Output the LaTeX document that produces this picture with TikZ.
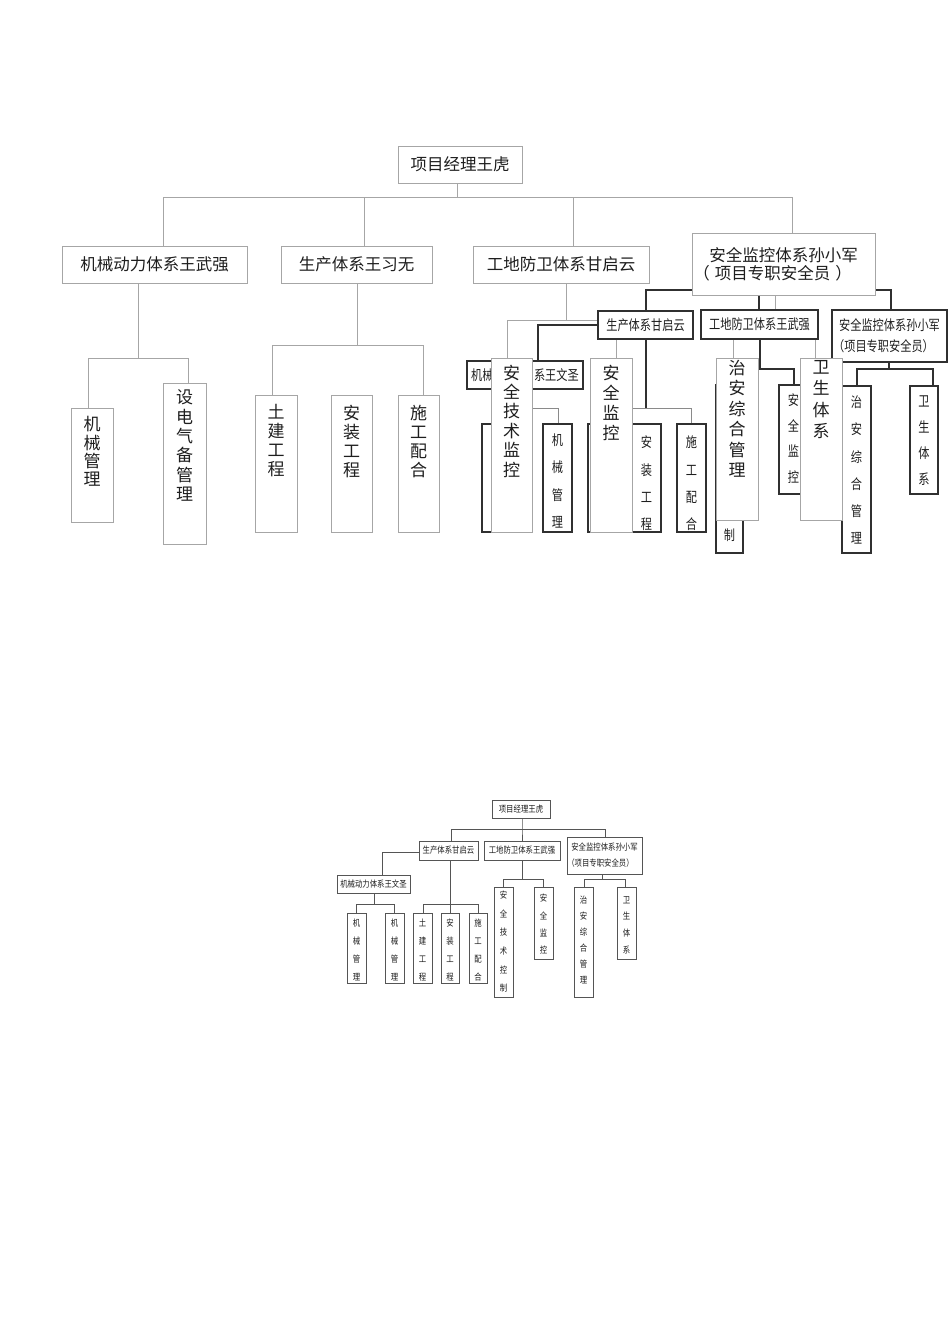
\documentclass[tikz,border=0pt]{standalone}
\usepackage{fontspec}
\setmainfont{Noto Sans CJK SC}
\newfontfamily\cjkc[FakeStretch=0.8]{Noto Sans CJK SC}
\newfontfamily\cjks[FakeStretch=0.82]{Noto Sans CJK SC}
\definecolor{glc}{HTML}{A6A6A6}
\definecolor{mlc}{HTML}{8A8A8A}
\definecolor{dlc}{HTML}{303030}
\definecolor{slc}{HTML}{555555}
\definecolor{txc}{HTML}{1E1E1E}
\newcommand\hbx[7]{\node[#1, minimum width={(#5-#3)*1pt}, minimum height={(#6-#4)*1pt}] (#2) at ({(#3+#5)/2},{(#4+#6)/2}) {#7};}
\newcommand\vbx[9]{\node[#1, minimum width={(#5-#3)*1pt}, minimum height={(#6-#4)*1pt}] (#2) at ({(#3+#5)/2},{(#4+#6)/2}) {};
\node[#7, anchor=north] (#2t) at ([yshift=-#8pt]#2.north) {#9};}
\tikzset{
 gl/.style={draw=glc, line width=1pt},
 ml/.style={draw=mlc, line width=1pt},
 dl/.style={draw=dlc, line width=1.2pt},
 sl/.style={draw=slc, line width=0.7pt},
 gbox/.style={draw=glc, fill=white, line width=1pt, inner sep=0pt, outer sep=0pt, text=txc, align=center, font=\fontsize{16.5}{18}\selectfont},
 dbox/.style={draw=dlc, fill=white, line width=1.2pt, inner sep=0pt, outer sep=0pt, text=txc, align=center, font=\cjkc\fontsize{14}{21}\selectfont},
 sbox/.style={draw=slc, fill=white, line width=0.7pt, inner sep=0pt, outer sep=0pt, text=txc, align=center, font=\cjks\fontsize{9}{16}\selectfont},
 gv/.style={inner sep=0pt, align=center, text=txc, font=\fontsize{17}{#1}\selectfont},
 dv/.style={inner sep=0pt, align=center, text=txc, font=\cjkc\fontsize{14}{#1}\selectfont},
 sv/.style={inner sep=0pt, align=center, text=txc, font=\cjks\fontsize{9}{#1}\selectfont},
}
\begin{document}
\begin{tikzpicture}[x=1pt,y=-1pt]
\fill[white] (0,0) rectangle (950,1344);
\useasboundingbox (0,0) rectangle (950,1344);
\coordinate (g0) at (457,197);
\coordinate (g1) at (163,197);
\coordinate (g2) at (364,197);
\coordinate (g3) at (573,197);
\coordinate (g4) at (792,197);
\coordinate (h1) at (138,358); \coordinate (h1a) at (88,358); \coordinate (h1b) at (188,358);
\coordinate (h2) at (357,345); \coordinate (h2a) at (272,345); \coordinate (h2b) at (423,345);
\coordinate (h3) at (566,320); \coordinate (h3a) at (507,320); \coordinate (h3b) at (616,320);
\coordinate (h4) at (775,320); \coordinate (h4a) at (733,320); \coordinate (h4b) at (815,320);
\coordinate (k1) at (646,290);
\coordinate (k2) at (759,300);
\coordinate (k3) at (891,290);
\coordinate (k4) at (538,325);
\coordinate (k5) at (646,408); \coordinate (k5a) at (603,408); \coordinate (k5b) at (691,408);
\coordinate (k6) at (525,408); \coordinate (k6a) at (496,408); \coordinate (k6b) at (558,408);
\coordinate (k7) at (760,369); \coordinate (k7a) at (730,369); \coordinate (k7b) at (794,369);
\coordinate (k8) at (889,369); \coordinate (k8a) at (857,369); \coordinate (k8b) at (933,369);
\begin{scope}[every node/.style={draw=none, fill=none}]
\hbx{inner sep=0pt,outer sep=0pt}{top}{398}{146}{522}{183}{}
\hbx{inner sep=0pt,outer sep=0pt}{a1}{62}{246}{247}{283}{}
\hbx{inner sep=0pt,outer sep=0pt}{a2}{281}{246}{432}{283}{}
\hbx{inner sep=0pt,outer sep=0pt}{a3}{473}{246}{649}{283}{}
\hbx{inner sep=0pt,outer sep=0pt}{a4}{692}{233}{875}{295}{}
\hbx{inner sep=0pt,outer sep=0pt}{b1}{71}{408}{113}{522}{}
\hbx{inner sep=0pt,outer sep=0pt}{b2}{163}{383}{206}{544}{}
\hbx{inner sep=0pt,outer sep=0pt}{b3}{255}{395}{297}{532}{}
\hbx{inner sep=0pt,outer sep=0pt}{b5}{398}{395}{439}{532}{}
\hbx{inner sep=0pt,outer sep=0pt}{c1}{491}{358}{532}{532}{}
\hbx{inner sep=0pt,outer sep=0pt}{c2}{590}{358}{632}{532}{}
\hbx{inner sep=0pt,outer sep=0pt}{c3}{716}{358}{758}{520}{}
\hbx{inner sep=0pt,outer sep=0pt}{c4}{800}{358}{842}{520}{}
\hbx{inner sep=0pt,outer sep=0pt}{d1}{598}{311}{693}{339}{}
\hbx{inner sep=0pt,outer sep=0pt}{d2}{701}{310}{818}{339}{}
\hbx{inner sep=0pt,outer sep=0pt}{d3}{832}{310}{947}{362}{}
\hbx{inner sep=0pt,outer sep=0pt}{d4}{467}{361}{583}{389}{}
\hbx{inner sep=0pt,outer sep=0pt}{d5}{543}{424}{572}{532}{}
\hbx{inner sep=0pt,outer sep=0pt}{d6}{482}{424}{511}{532}{}
\hbx{inner sep=0pt,outer sep=0pt}{d7}{588}{424}{617}{532}{}
\hbx{inner sep=0pt,outer sep=0pt}{d9}{677}{424}{706}{532}{}
\hbx{inner sep=0pt,outer sep=0pt}{d10}{716}{385}{743}{553}{}
\hbx{inner sep=0pt,outer sep=0pt}{d11}{779}{385}{808}{494}{}
\hbx{inner sep=0pt,outer sep=0pt}{d12}{842}{386}{871}{553}{}
\hbx{inner sep=0pt,outer sep=0pt}{d13}{910}{386}{938}{494}{}
\end{scope}
% ---------- gray connectors ----------
\draw[gl] (g0 |- top.south) -- (g0);
\draw[gl] (g1 |- a1.north) -- (g1) -- (g4) -- (g4 |- a4.north);
\draw[gl] (g2) -- (g2 |- a2.north);
\draw[gl] (g3) -- (g3 |- a3.north);
\draw[gl] (h1 |- a1.south) -- (h1);
\draw[gl] (h1a |- b1.north) -- (h1a) -- (h1b) -- (h1b |- b2.north);
\draw[gl] (h2 |- a2.south) -- (h2);
\draw[gl] (h2a |- b3.north) -- (h2a) -- (h2b) -- (h2b |- b5.north);
\draw[gl] (h3 |- a3.south) -- (h3);
\draw[gl] (h3a |- c1.north) -- (h3a) -- (h3b) -- (h3b |- c2.north);
\draw[gl] (h4 |- a4.south) -- (h4);
\draw[gl] (h4a |- c3.north) -- (h4a) -- (h4b) -- (h4b |- c4.north);
\draw[ml] (k6a |- d6.north) -- (k6a) -- (k6b) -- (k6b |- d5.north);
\draw[ml] (k5a |- d7.north) -- (k5a) -- (k5b) -- (k5b |- d9.north);
% ---------- dark connectors ----------
\draw[dl] (a4.west |- k1) -- (k1) -- (k1 |- d1.north);
\draw[dl] (k2 |- a4.south) -- (k2 |- d2.north);
\draw[dl] (a4.east |- k3) -- (k3) -- (k3 |- d3.north);
\draw[dl] (d1.west |- k4) -- (k4) -- (k4 |- d4.north);
\draw[dl] (k5 |- d1.south) -- (k5);
\draw[dl] (k6 |- d4.south) -- (k6);
\draw[dl] (k7 |- d2.south) -- (k7);
\draw[dl] (k7a |- d10.north) -- (k7a) -- (k7b) -- (k7b |- d11.north);
\draw[dl] (k8 |- d3.south) -- (k8);
\draw[dl] (k8a |- d12.north) -- (k8a) -- (k8b) -- (k8b |- d13.north);
% ---------- dark boxes ----------
\hbx{dbox}{D1}{598}{311}{693}{339}{生产体系甘启云}
\hbx{dbox}{D2}{701}{310}{818}{339}{工地防卫体系王武强}
\hbx{dbox}{D3}{832}{310}{947}{362}{安全监控体系孙小军\\\hspace*{-12pt}（项目专职安全员）}
\hbx{dbox}{D4}{467}{361}{583}{389}{}
\node[inner sep=0pt, text=txc, font=\cjkc\fontsize{14}{16}\selectfont, anchor=west] (D4l) at ([xshift=4pt]D4.west) {机械};
\node[inner sep=0pt, text=txc, font=\cjkc\fontsize{14}{16}\selectfont, anchor=east] (D4r) at ([xshift=-4pt]D4.east) {系王文圣};
\vbx{dbox}{D5}{543}{424}{572}{532}{dv=27.3}{9.5}{机\\械\\管\\理}
\hbx{dbox}{D6}{482}{424}{511}{532}{}
\hbx{dbox}{D7}{588}{424}{617}{532}{}
\vbx{dbox}{D8}{632}{424}{661}{532}{dv=27.3}{12}{安\\装\\工\\程}
\vbx{dbox}{D9}{677}{424}{706}{532}{dv=27.3}{12}{施\\工\\配\\合}
\hbx{dbox}{D10}{716}{385}{743}{553}{}
\node[inner sep=0pt, text=txc, font=\cjkc\fontsize{14}{16}\selectfont] (D10t) at ([yshift=18pt]D10.south) {制};
\vbx{dbox}{D11}{779}{385}{808}{494}{dv=25.7}{8.5}{安\\全\\监\\控}
\vbx{dbox}{D12}{842}{386}{871}{553}{dv=27.3}{9.5}{治\\安\\综\\合\\管\\理}
\vbx{dbox}{D13}{910}{386}{938}{494}{dv=26}{9.5}{卫\\生\\体\\系}
% ---------- gray boxes ----------
\hbx{gbox}{T}{398}{146}{522}{183}{项目经理王虎}
\hbx{gbox}{A1}{62}{246}{247}{283}{机械动力体系王武强}
\hbx{gbox}{A2}{281}{246}{432}{283}{生产体系王习无}
\hbx{gbox}{A3}{473}{246}{649}{283}{工地防卫体系甘启云}
\hbx{gbox}{A4}{692}{233}{875}{295}{安全监控体系孙小军\\\hspace*{-22pt}（\hspace{5pt}项目专职安全员\hspace{5pt}）}
\vbx{gbox}{B1}{71}{408}{113}{522}{gv=18.3}{8.5}{机\\械\\管\\理}
\vbx{gbox}{B2}{163}{383}{206}{544}{gv=19.4}{6.5}{设\\电\\气\\备\\管\\理}
\vbx{gbox}{B3}{255}{395}{297}{532}{gv=19}{9.5}{土\\建\\工\\程}
\vbx{gbox}{B4}{331}{395}{372}{532}{gv=19}{9.5}{安\\装\\工\\程}
\vbx{gbox}{B5}{398}{395}{439}{532}{gv=19}{9.5}{施\\工\\配\\合}
\vbx{gbox}{C1}{491}{358}{532}{532}{gv=19.4}{6.5}{安\\全\\技\\术\\监\\控}
\vbx{gbox}{C2}{590}{358}{632}{532}{gv=20}{6.5}{安\\全\\监\\控}
\vbx{gbox}{C3}{716}{358}{758}{520}{gv=20.4}{2}{治\\安\\综\\合\\管\\理}
\vbx{gbox}{C4}{800}{358}{842}{520}{gv=21.5}{2}{卫\\生\\体\\系}
% ---------- small chart ----------
\hbx{sbox}{s0}{492}{800}{550}{818}{项目经理王虎}
\hbx{sbox}{s1}{419}{841}{478}{860}{生产体系甘启云}
\hbx{sbox}{s2}{484}{841}{560}{860}{工地防卫体系王武强}
\hbx{sbox}{s3}{567}{837}{642}{874}{安全监控体系孙小军\\\hspace*{-8pt}（项目专职安全员）}
\hbx{sbox}{s4}{337}{875}{410}{893}{机械动力体系王文圣}
\vbx{sbox}{s5}{347}{913}{366}{983}{sv=18}{6}{机\\械\\管\\理}
\vbx{sbox}{s6}{385}{913}{404}{983}{sv=18}{6}{机\\械\\管\\理}
\vbx{sbox}{s7}{413}{913}{432}{983}{sv=18}{6}{土\\建\\工\\程}
\vbx{sbox}{s8}{441}{913}{459}{983}{sv=18}{6}{安\\装\\工\\程}
\vbx{sbox}{s9}{469}{913}{487}{983}{sv=18}{6}{施\\工\\配\\合}
\vbx{sbox}{s10}{494}{887}{513}{997}{sv=18.6}{4}{安\\全\\技\\术\\控\\制}
\vbx{sbox}{s11}{534}{887}{553}{959}{sv=17.3}{7}{安\\全\\监\\控}
\vbx{sbox}{s12}{574}{887}{593}{997}{sv=16}{9}{治\\安\\综\\合\\管\\理}
\vbx{sbox}{s13}{617}{887}{636}{959}{sv=16.7}{9}{卫\\生\\体\\系}
\coordinate (m0) at (522,829); \coordinate (m1) at (451,829); \coordinate (m3) at (605,829);
\coordinate (m4) at (382,852);
\coordinate (m5) at (450,904); \coordinate (m5a) at (423,904); \coordinate (m5b) at (478,904);
\coordinate (m6) at (374,904); \coordinate (m6a) at (356,904); \coordinate (m6b) at (394,904);
\coordinate (m7) at (522,879); \coordinate (m7a) at (503,879); \coordinate (m7b) at (543,879);
\coordinate (m8) at (602,879); \coordinate (m8a) at (584,879); \coordinate (m8b) at (625,879);
\draw[sl] (m0 |- s0.south) -- (m0) -- (m0 |- s2.north);
\draw[sl] (m1 |- s1.north) -- (m1) -- (m3) -- (m3 |- s3.north);
\draw[sl] (s1.west |- m4) -- (m4) -- (m4 |- s4.north);
\draw[sl] (m5 |- s1.south) -- (m5 |- s8.north);
\draw[sl] (m5a |- s7.north) -- (m5a) -- (m5b) -- (m5b |- s9.north);
\draw[sl] (m6 |- s4.south) -- (m6);
\draw[sl] (m6a |- s5.north) -- (m6a) -- (m6b) -- (m6b |- s6.north);
\draw[sl] (m7 |- s2.south) -- (m7);
\draw[sl] (m7a |- s10.north) -- (m7a) -- (m7b) -- (m7b |- s11.north);
\draw[sl] (m8 |- s3.south) -- (m8);
\draw[sl] (m8a |- s12.north) -- (m8a) -- (m8b) -- (m8b |- s13.north);
\end{tikzpicture}
\end{document}
